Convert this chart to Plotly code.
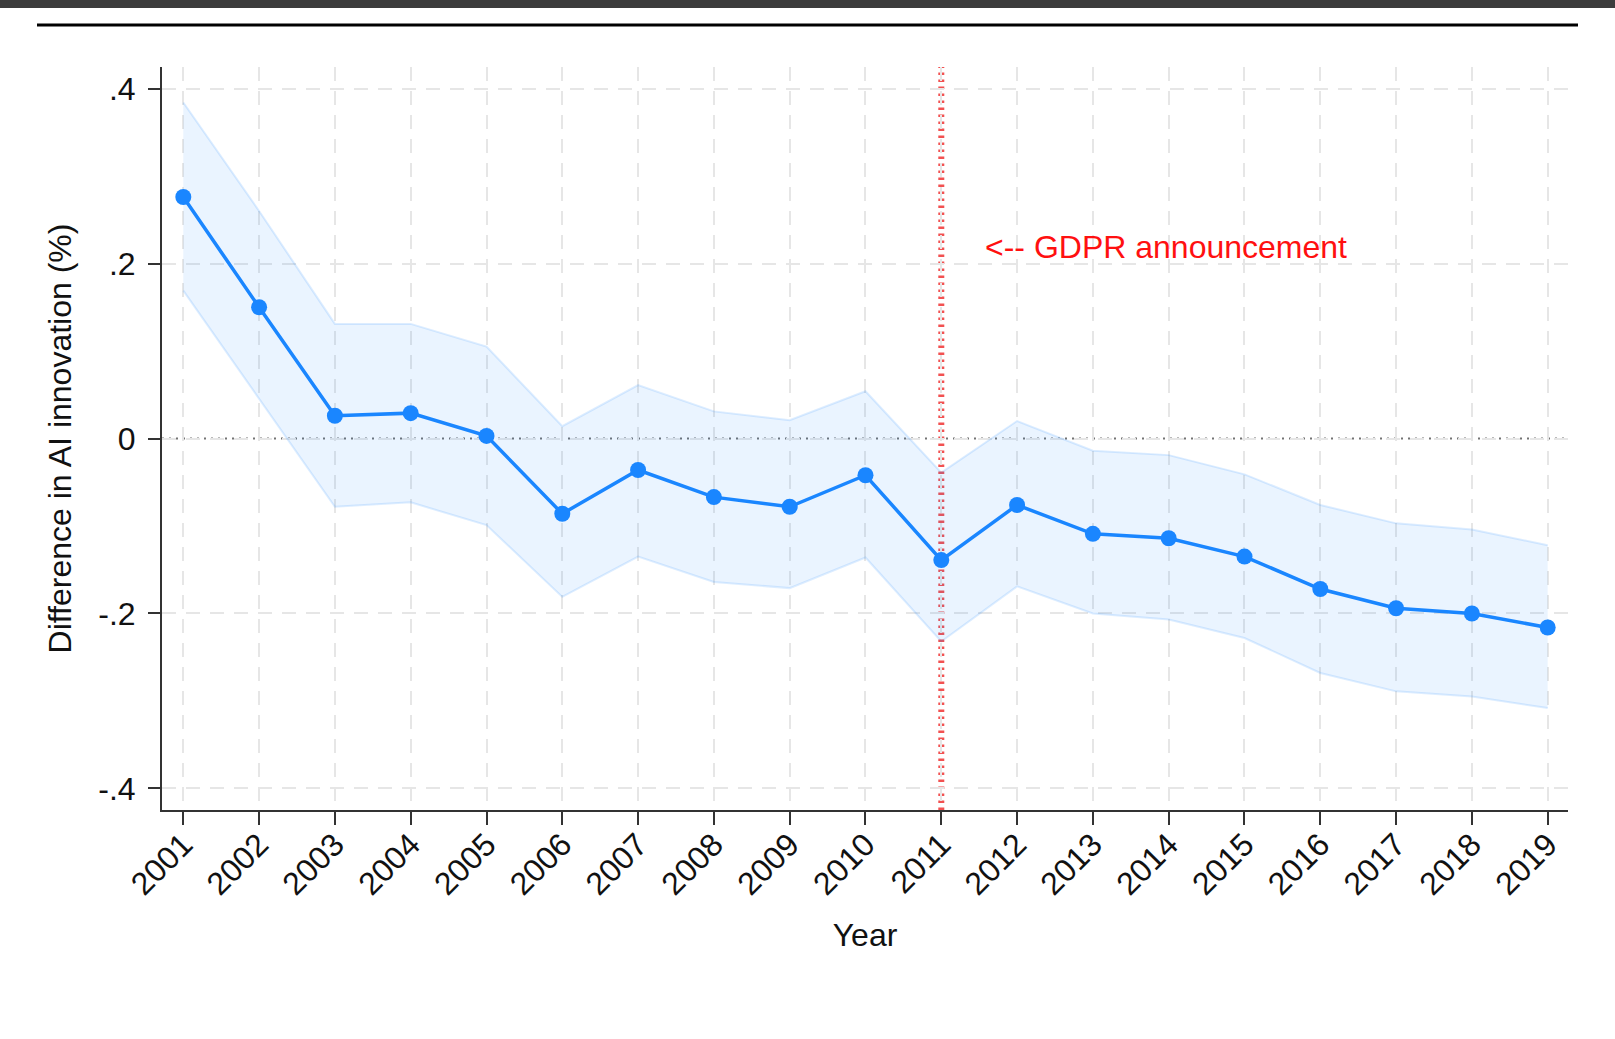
import plotly.graph_objects as go

years = list(range(2001, 2020))
estimate = [0.276, 0.150, 0.026, 0.029, 0.003, -0.086, -0.036, -0.067, -0.078, -0.042,
            -0.139, -0.076, -0.109, -0.114, -0.135, -0.172, -0.194, -0.200, -0.216]
ci_upper = [0.384, 0.260, 0.131, 0.131, 0.105, 0.014, 0.061, 0.031, 0.021, 0.054,
            -0.039, 0.020, -0.014, -0.019, -0.041, -0.076, -0.097, -0.104, -0.122]
ci_lower = [0.169, 0.046, -0.078, -0.073, -0.099, -0.181, -0.135, -0.164, -0.171, -0.136,
            -0.232, -0.169, -0.200, -0.207, -0.228, -0.268, -0.289, -0.295, -0.308]
y_ticks = [-0.4, -0.2, 0, 0.2, 0.4]
y_tick_labels = ["-.4", "-.2", "0", ".2", ".4"]
event_year = 2011
event_label = "<-- GDPR announcement"

FONT = "Liberation Sans, Arial, Helvetica, sans-serif"
BLUE = "#1a86ff"

fig = go.Figure()
fig.add_trace(go.Scatter(x=years, y=ci_lower, mode="lines",
                         line=dict(color="rgba(26,134,255,0.15)", width=2),
                         hoverinfo="skip", showlegend=False))
fig.add_trace(go.Scatter(x=years, y=ci_upper, mode="lines", fill="tonexty",
                         fillcolor="rgba(26,134,255,0.09)",
                         line=dict(color="rgba(26,134,255,0.15)", width=2),
                         hoverinfo="skip", showlegend=False))
fig.add_trace(go.Scatter(x=years, y=estimate, mode="lines+markers",
                         line=dict(color=BLUE, width=3.5),
                         marker=dict(color=BLUE, size=16),
                         showlegend=False))

# zero reference line and event line
fig.add_shape(type="line", xref="paper", x0=0, x1=1, yref="y", y0=0, y1=0,
              line=dict(color="rgba(100,100,100,0.9)", width=2, dash="2px,5px"),
              layer="between")
fig.add_shape(type="line", xref="x", x0=event_year, x1=event_year, yref="paper", y0=0, y1=1,
              line=dict(color="rgba(240,50,50,0.85)", width=6, dash="2.5px,4.5px"),
              layer="between")

fig.add_annotation(x=event_year + 0.55, y=0.219, xref="x", yref="y", text=event_label,
                   showarrow=False, xanchor="left", yanchor="middle",
                   font=dict(family=FONT, size=32, color="#ff1010"))

# page decorations: dark strip and black rule at top
fig.add_shape(type="rect", xref="paper", yref="paper",
              x0=-162/1406, x1=1 + 47/1406, y0=1 + 59/743, y1=1 + 67/743,
              fillcolor="#3c3c3c", line=dict(width=0), layer="above")
fig.add_shape(type="line", xref="paper", yref="paper",
              x0=(37-162)/1406, x1=(1578-162)/1406, y0=1 + 42/743, y1=1 + 42/743,
              line=dict(color="#000000", width=3), layer="above")

fig.update_layout(
    width=1615, height=1039,
    margin=dict(l=162, r=47, t=67, b=229),
    paper_bgcolor="white", plot_bgcolor="white",
    font=dict(family=FONT, color="#111111"),
    showlegend=False,
)
fig.update_xaxes(
    range=[2000.719, 2019.268], tickmode="array", tickvals=years,
    ticktext=[str(y) for y in years], tickangle=-45,
    tickfont=dict(size=32, family=FONT, color="#111111"),
    ticks="outside", ticklen=13, tickwidth=2, tickcolor="#333333",
    ticklabelstandoff=-12,
    showline=True, linecolor="#333333", linewidth=2,
    showgrid=True, gridcolor="#e6e6e6", gridwidth=2, griddash="14px,10px",
    zeroline=False,
    title=dict(text="Year", font=dict(size=32, family=FONT, color="#111111"), standoff=23),
)
fig.update_yaxes(
    range=[-0.4246, 0.4246], tickmode="array", tickvals=y_ticks, ticktext=y_tick_labels,
    tickfont=dict(size=32, family=FONT, color="#111111"),
    ticks="outside", ticklen=12, tickwidth=2, tickcolor="#333333",
    ticklabelstandoff=6,
    showline=True, linecolor="#333333", linewidth=2,
    showgrid=True, gridcolor="#e6e6e6", gridwidth=2, griddash="14px,10px",
    zeroline=False,
    title=dict(text="Difference in AI innovation (%)", font=dict(size=32, family=FONT, color="#111111"), standoff=17),
)

fig.write_html("out.html", config={"displayModeBar": False},
               post_script="document.body.style.margin='0';document.body.style.overflow='hidden';")
